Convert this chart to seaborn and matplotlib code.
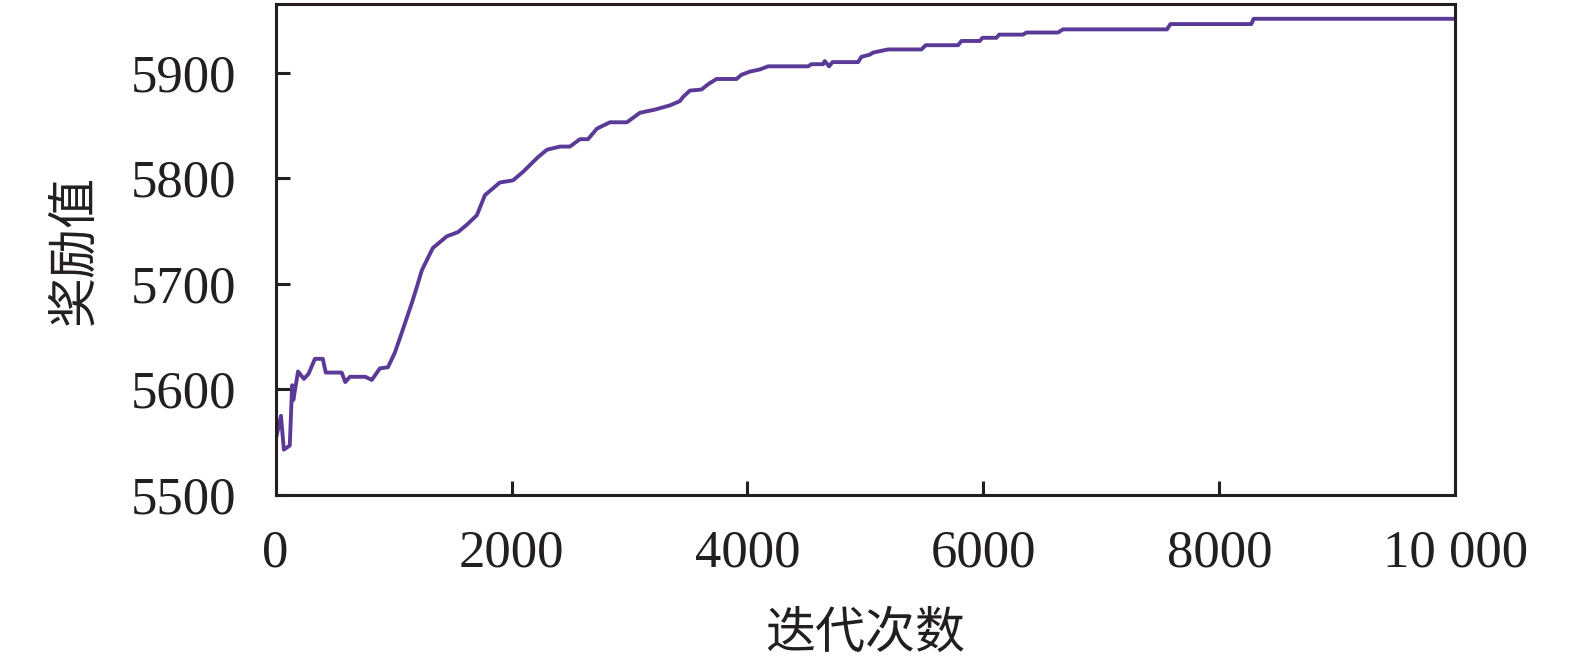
import matplotlib
matplotlib.use("Agg")
import matplotlib.pyplot as plt
import seaborn as sns
import pandas as pd

# values
iters = [0, 45, 70, 120, 140, 150, 190, 240, 280, 333, 400, 425, 560, 590, 630, 760, 815,
         884, 952, 1011, 1070, 1155, 1197, 1240, 1333, 1451, 1546, 1621, 1706, 1774, 1901,
         2012, 2097, 2224, 2300, 2410, 2495, 2580, 2648, 2724, 2834, 2978, 3088, 3215, 3342,
         3426, 3454, 3511, 3610, 3666, 3737, 3907, 3949, 4020, 4104, 4175, 4514, 4542, 4641,
         4655, 4692, 4720, 4937, 4966, 5036, 5064, 5192, 5475, 5511, 5785, 5814, 5969, 5992,
         6110, 6133, 6336, 6364, 6632, 6675, 7556, 7585, 8271, 8290, 10000]
reward = [5552, 5575, 5543, 5547, 5604, 5590, 5617, 5610, 5615, 5629, 5629, 5616, 5616, 5607,
          5612, 5612, 5609, 5620, 5621, 5635, 5654, 5682, 5697, 5713, 5734, 5745, 5749, 5756,
          5765, 5784, 5796, 5798, 5806, 5820, 5827, 5830, 5830, 5837, 5837, 5847, 5853, 5853,
          5862, 5865, 5869, 5873, 5877, 5883, 5884, 5889, 5894, 5894, 5898, 5901, 5903, 5906,
          5906, 5908, 5908, 5911, 5906, 5910, 5910, 5915, 5917, 5919, 5922, 5922, 5926, 5926,
          5930, 5930, 5933, 5933, 5936, 5936, 5938, 5938, 5941, 5941, 5946, 5946, 5951, 5951]
xticks = [0, 2000, 4000, 6000, 8000, 10000]
xtick_labels = ["0", "2000", "4000", "6000", "8000", "10 000"]
yticks = [5500, 5600, 5700, 5800, 5900]

df = pd.DataFrame({"iter": iters, "reward": reward})

sns.set_style("ticks")
plt.rcParams['font.family'] = ['Liberation Serif', 'Noto Sans CJK SC']
ink = "#231f20"

fig = plt.figure(figsize=(15.75, 6.69), dpi=100)
ax = fig.add_axes([0.175, 0.26, 0.749, 0.734])

sns.lineplot(data=df, x="iter", y="reward", ax=ax, color="#5a3a96", lw=2.8,
             estimator=None, sort=False)

ax.set_xlim(0, 10000)
ax.set_ylim(5500, 5965)
ax.set_xticks(xticks)
ax.set_xticklabels(xtick_labels)
ax.set_yticks(yticks)
ax.tick_params(direction="in", length=10, width=2.2, color=ink, labelsize=38,
               labelcolor=ink)
ax.tick_params(axis="x", pad=25)
ax.tick_params(axis="y", pad=28)
for sp in ax.spines.values():
    sp.set_visible(True)
    sp.set_linewidth(2.2)
    sp.set_color(ink)

ax.set_xlabel("迭代次数", fontsize=36, color=ink, family=['Noto Sans CJK SC'],
              fontweight='light', labelpad=22)
ax.set_ylabel("奖励值", fontsize=36, color=ink, family=['Noto Sans CJK SC'],
              fontweight='light', labelpad=22)

fig.savefig("out.png", dpi=100)
